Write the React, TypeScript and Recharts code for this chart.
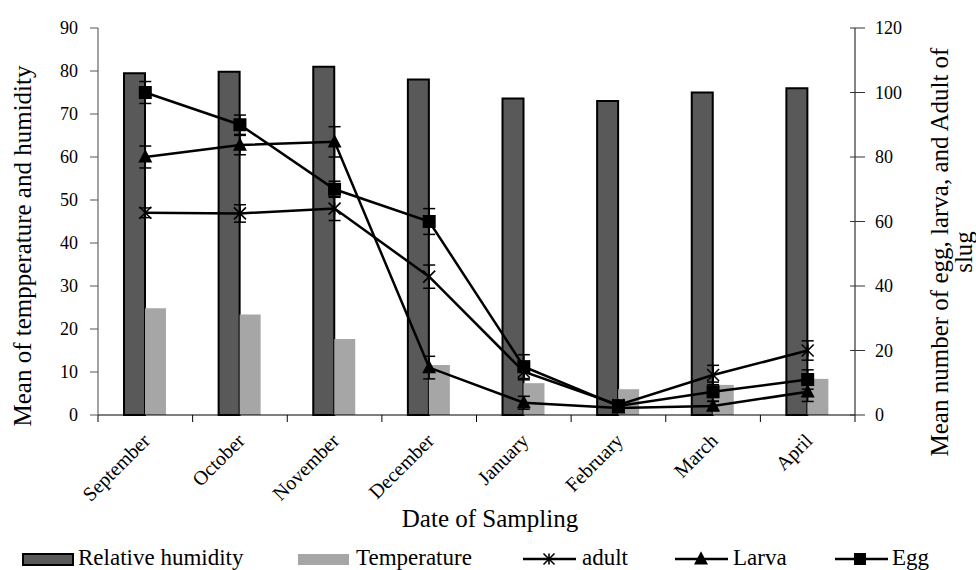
import React from 'react';
import { ComposedChart, Bar, Line, XAxis, YAxis, ErrorBar } from 'recharts';

const months = ['September', 'October', 'November', 'December', 'January', 'February', 'March', 'April'];
const humidity = [79.5, 79.8, 81, 78, 73.6, 73, 75, 76];
const temperature = [24.8, 23.4, 17.7, 11.6, 7.4, 6, 7, 8.4];
const egg = [100, 90, 70, 60, 15, 2.8, 7.2, 11];
const eggErr = [3.4, 3, 2.5, 4, 3.7, 1.5, 3, 3];
const larva = [80, 83.7, 84.7, 14.7, 3.8, 2.2, 2.8, 7.2];
const larvaErr = [3.4, 3, 4.7, 3.5, 2, 1, 1.5, 3];
const adult = [62.7, 62.5, 64, 42.9, 13.4, 3.1, 12.4, 20];
const adultErr = [1.5, 2.7, 3.7, 3.6, 2.5, 1.5, 3, 3];
const leftTicks = [0, 10, 20, 30, 40, 50, 60, 70, 80, 90];
const rightTicks = [0, 20, 40, 60, 80, 100, 120];

const data = months.map((month, i) => ({
  month,
  humidity: humidity[i],
  temperature: temperature[i],
  egg: egg[i],
  eggErr: eggErr[i],
  larva: larva[i],
  larvaErr: larvaErr[i],
  adult: adult[i],
  adultErr: adultErr[i],
}));

const FONT = 'Liberation Serif';
const W = 976;
const H = 570;
const LEFT_W = 98;
const RIGHT_W = 121;
const TOP = 28;
const X_H = 155;
const band = (W - LEFT_W - RIGHT_W) / months.length;

// markers
const Square = ({ cx, cy, size = 13 }: any) => (
  <rect x={cx - size / 2} y={cy - size / 2} width={size} height={size} fill="#000" />
);
const Triangle = ({ cx, cy, size = 14 }: any) => (
  <polygon
    points={`${cx},${cy - size * 0.55} ${cx - size / 2},${cy + size * 0.4} ${cx + size / 2},${cy + size * 0.4}`}
    fill="#000"
  />
);
const Star = ({ cx, cy, size = 12 }: any) => {
  const h = size / 2;
  return (
    <g stroke="#000" strokeWidth={1.6}>
      <line x1={cx - h} y1={cy - h} x2={cx + h} y2={cy + h} />
      <line x1={cx - h} y1={cy + h} x2={cx + h} y2={cy - h} />
      <line x1={cx} y1={cy - h} x2={cx} y2={cy + h} />
    </g>
  );
};

const dotFn = (Shape: any, name: string) => (p: any) => {
  if (p.cx == null || p.cy == null) return <g key={`${name}-${p.index}`} />;
  return <Shape key={`${name}-${p.index}`} cx={p.cx} cy={p.cy} />;
};

const txt = (size: number) => ({ fontSize: size, fontFamily: FONT, fill: '#000' });

const LeftTick = ({ x, y, payload }: any) => (
  <g>
    <line x1={x - 8} y1={y} x2={x} y2={y} stroke="#555" />
    <text x={x - 20} y={y} dy={6} textAnchor="end" style={txt(18)}>
      {payload.value}
    </text>
  </g>
);

const RightTick = ({ x, y, payload }: any) => (
  <g>
    <line x1={x - 5} y1={y} x2={x + 10} y2={y} stroke="#333" />
    <text x={x + 20} y={y} dy={6} textAnchor="start" style={txt(18)}>
      {payload.value}
    </text>
  </g>
);

const MonthTick = ({ x, y, payload, index }: any) => {
  const tx = x + 6;
  const ty = y + 27;
  return (
    <g>
      <line x1={x - band / 2} y1={y} x2={x - band / 2} y2={y + 7} stroke="#000" />
      {index === months.length - 1 && (
        <line x1={x + band / 2} y1={y} x2={x + band / 2} y2={y + 7} stroke="#000" />
      )}
      <text x={tx} y={ty} transform={`rotate(-45 ${tx} ${ty})`} textAnchor="end" style={txt(20)}>
        {payload.value}
      </text>
    </g>
  );
};

function Legend() {
  const y = 565;
  const mid = 559;
  return (
    <svg width={W} height={H} style={{ position: 'absolute', left: 0, top: 0, pointerEvents: 'none' }}>
      <rect x={23} y={554} width={50} height={11} fill="#595959" stroke="#000" strokeWidth={2} />
      <text x={78} y={y} style={txt(23)}>Relative humidity</text>
      <rect x={298} y={554} width={51} height={11} fill="#a6a6a6" />
      <text x={356} y={y} style={txt(23)}>Temperature</text>

      <line x1={523} y1={mid} x2={576} y2={mid} stroke="#000" strokeWidth={2.5} />
      <Star cx={549} cy={mid} size={11} />
      <text x={582} y={y} style={txt(23)}>adult</text>

      <line x1={675} y1={mid} x2={728} y2={mid} stroke="#000" strokeWidth={2.5} />
      <Triangle cx={701} cy={mid} size={14} />
      <text x={733} y={y} style={txt(23)}>Larva</text>

      <line x1={835} y1={mid} x2={888} y2={mid} stroke="#000" strokeWidth={2.5} />
      <Square cx={860} cy={mid} size={12} />
      <text x={892} y={y} style={txt(23)}>Egg</text>
    </svg>
  );
}

export default function App() {
  return (
    <div
      style={{
        position: 'absolute',
        left: 0,
        top: 0,
        width: W,
        height: H,
        background: '#fff',
        fontFamily: FONT,
      }}
    >
      <ComposedChart
        width={W}
        height={H}
        data={data}
        margin={{ top: TOP, right: 0, bottom: 0, left: 0 }}
        barGap={0}
        barSize={21}
        style={{ fontFamily: FONT }}
      >
        <XAxis
          dataKey="month"
          height={X_H}
          interval={0}
          tickLine={false}
          tickSize={0}
          tickMargin={0}
          axisLine={{ stroke: '#000', strokeWidth: 1.2 }}
          tick={<MonthTick />}
          label={{
            content: () => (
              <text x={490} y={527} textAnchor="middle" style={txt(25)}>
                Date of Sampling
              </text>
            ),
          }}
        />
        <YAxis
          yAxisId="left"
          width={LEFT_W}
          domain={[0, 90]}
          ticks={leftTicks}
          interval={0}
          tickLine={false}
          tickSize={0}
          tickMargin={0}
          axisLine={{ stroke: '#666', strokeWidth: 1.2 }}
          tick={<LeftTick />}
          label={{
            content: () => (
              <text x={31} y={246} textAnchor="middle" transform="rotate(-90 31 246)" style={txt(25)}>
                Mean of tempperature and humidity
              </text>
            ),
          }}
        />
        <YAxis
          yAxisId="right"
          orientation="right"
          width={RIGHT_W}
          domain={[0, 120]}
          ticks={rightTicks}
          interval={0}
          tickLine={false}
          tickSize={0}
          tickMargin={0}
          axisLine={{ stroke: '#333', strokeWidth: 1.2 }}
          tick={<RightTick />}
          label={{
            content: () => (
              <g>
                <text x={948} y={252} textAnchor="middle" transform="rotate(-90 948 252)" style={txt(25)}>
                  Mean number of egg, larva, and Adult of
                </text>
                <text x={972} y={252} textAnchor="middle" transform="rotate(-90 972 252)" style={txt(25)}>
                  slug
                </text>
              </g>
            ),
          }}
        />
        <Bar yAxisId="left" dataKey="humidity" fill="#595959" stroke="#000" strokeWidth={2} isAnimationActive={false} />
        <Bar yAxisId="left" dataKey="temperature" fill="#a6a6a6" isAnimationActive={false} />
        <Line
          yAxisId="right"
          dataKey="adult"
          stroke="#000"
          strokeWidth={2.5}
          dot={dotFn(Star, 'adult')}
          activeDot={false}
          isAnimationActive={false}
        >
          <ErrorBar dataKey="adultErr" width={6} stroke="#000" strokeWidth={1.5} direction="y" />
        </Line>
        <Line
          yAxisId="right"
          dataKey="larva"
          stroke="#000"
          strokeWidth={2.5}
          dot={dotFn(Triangle, 'larva')}
          activeDot={false}
          isAnimationActive={false}
        >
          <ErrorBar dataKey="larvaErr" width={6} stroke="#000" strokeWidth={1.5} direction="y" />
        </Line>
        <Line
          yAxisId="right"
          dataKey="egg"
          stroke="#000"
          strokeWidth={2.5}
          dot={dotFn(Square, 'egg')}
          activeDot={false}
          isAnimationActive={false}
        >
          <ErrorBar dataKey="eggErr" width={6} stroke="#000" strokeWidth={1.5} direction="y" />
        </Line>
      </ComposedChart>
      <Legend />
    </div>
  );
}
